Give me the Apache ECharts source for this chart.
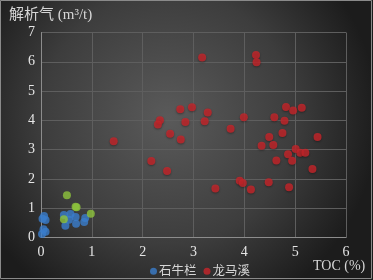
<!DOCTYPE html>
<html>
<head>
<meta charset="utf-8">
<script src="https://cdn.jsdelivr.net/npm/echarts@6/dist/echarts.min.js"></script>
<style>
html,body{margin:0;padding:0;background:#222;}
#c{width:373px;height:280px;}
</style>
</head>
<body>
<div id="c"></div>
<script>
var xTicks = [0, 1, 2, 3, 4, 5, 6];
var yTicks = [0, 1, 2, 3, 4, 5, 6, 7];
var seriesNames = ['石牛栏', '龙马溪'];
var shiniulan = [
  [0.06,0.73],[0.03,0.64],[0.09,0.60],[0.05,0.28],[0.09,0.20],[0.02,0.12],
  [0.45,0.77],[0.58,0.80],[0.55,0.61],[0.68,0.70],[0.48,0.40],[0.69,0.47],
  [0.87,0.67],[0.85,0.53]
];
var shiniulanGreen = [
  [0.51,1.44],[0.68,1.05],[0.70,1.03],[0.98,0.81],[0.45,0.62]
];
var longmaxi = [
  [3.17,6.15],[4.23,6.23],[4.24,5.98],[2.74,4.38],[2.97,4.45],[3.28,4.27],
  [3.99,4.11],[2.34,4.00],[2.30,3.86],[2.84,3.94],[3.22,3.97],[3.73,3.71],
  [2.54,3.54],[2.75,3.35],[4.82,4.46],[4.96,4.34],[5.13,4.43],[4.59,4.11],
  [4.79,3.99],[4.49,3.43],[4.75,3.57],[5.44,3.43],[2.17,2.61],[2.48,2.27],
  [3.43,1.67],[3.91,1.94],[3.97,1.86],[4.13,1.64],[4.34,3.13],[4.57,3.16],
  [5.01,3.02],[5.10,2.89],[5.20,2.89],[4.86,2.84],[4.94,2.62],[4.63,2.63],
  [5.34,2.34],[4.48,1.89],[4.88,1.72],[1.43,3.29]
];

var chart = echarts.init(document.getElementById('c'), null, {renderer: 'canvas'});
var serif = '"Liberation Serif", "Noto Sans CJK SC", serif';
chart.setOption({
  animation: false,
  backgroundColor: new echarts.graphic.RadialGradient(0.45, 0.42, 0.75, [
    {offset: 0, color: '#5a5a5a'},
    {offset: 0.6, color: '#3d3d3d'},
    {offset: 1, color: '#1c1c1c'}
  ]),
  graphic: [
    {type: 'rect', shape: {x: 0.5, y: 0.5, width: 371, height: 278}, style: {fill: 'none', stroke: '#8a8a8a', lineWidth: 1}, silent: true},
    {type: 'text', left: 9, top: 8, style: {text: '解析气 (m³/t)', fill: '#d6d6d6', font: '15px ' + serif}},
    {type: 'text', left: 313, top: 259, style: {text: 'TOC (%)', fill: '#d6d6d6', font: '14px ' + serif}}
  ],
  grid: {left: 41, right: 27, top: 32.5, bottom: 42.5},
  legend: {
    data: seriesNames,
    left: 145, top: 260,
    itemWidth: 7, itemHeight: 7, itemGap: 7,
    icon: 'circle',
    textStyle: {color: '#d6d6d6', fontSize: 12.5, fontFamily: serif, padding: [0,0,0,-3]}
  },
  xAxis: {
    type: 'value', min: 0, max: 6, interval: 1,
    axisLine: {show: true, lineStyle: {color: '#8c8c8c', width: 1}},
    axisTick: {show: false},
    splitLine: {show: true, lineStyle: {color: '#5e5e5e', width: 1}},
    axisLabel: {color: '#e6e6e6', fontSize: 14, fontFamily: serif, margin: 8,
      formatter: function (v) { return xTicks.indexOf(v) >= 0 ? String(v) : ''; }}
  },
  yAxis: {
    type: 'value', min: 0, max: 7, interval: 1,
    axisLine: {show: true, lineStyle: {color: '#8c8c8c', width: 1}},
    axisTick: {show: false},
    splitLine: {show: true, lineStyle: {color: '#5e5e5e', width: 1}},
    axisLabel: {color: '#e6e6e6', fontSize: 14, fontFamily: serif, margin: 6,
      formatter: function (v) { return yTicks.indexOf(v) >= 0 ? String(v) : ''; }}
  },
  series: [
    {name: '石牛栏', type: 'scatter', data: shiniulan, symbolSize: 8,
      itemStyle: {color: '#3a7dcc'}},
    {name: '石牛栏-2', type: 'scatter', data: shiniulanGreen, symbolSize: 8,
      itemStyle: {color: '#8dc33c'}},
    {name: '龙马溪', type: 'scatter', data: longmaxi, symbolSize: 8,
      itemStyle: {color: '#c8262a', shadowColor: 'rgba(0,0,0,0.4)', shadowBlur: 2, shadowOffsetY: 1}}
  ]
});
</script>
</body>
</html>
